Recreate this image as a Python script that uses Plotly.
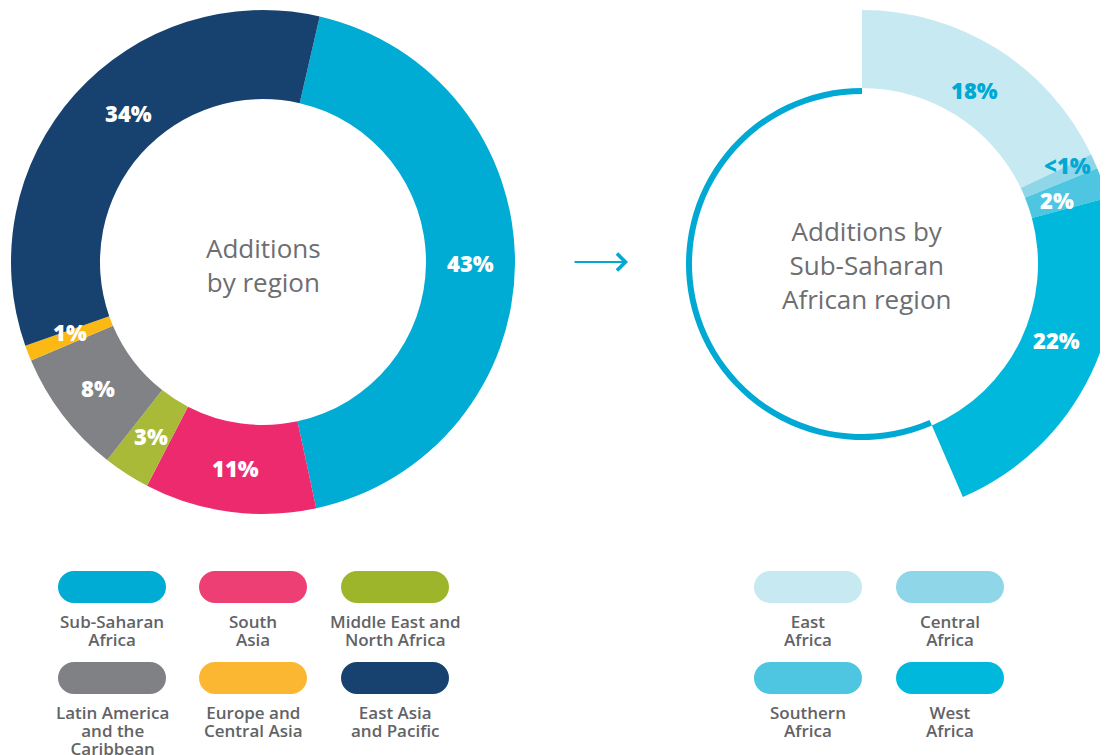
import math
import plotly.graph_objects as go

# browser's default 8px body margin; the figure runs a little past the window's right edge
OFF = 8
W, H = 1112, 747

# ---------------- data ----------------
regions = ["Sub-Saharan Africa", "South Asia", "Middle East and North Africa",
           "Latin America and the Caribbean", "Europe and Central Asia", "East Asia and Pacific"]
region_share = [43, 11, 3, 8, 1, 34]
region_labels = ["43%", "11%", "3%", "8%", "1%", "34%"]
region_colors = ["#00acd4", "#ee2a6f", "#a9ba39", "#818285", "#fdb913", "#17426f"]
region_legend_colors = ["#00acd4", "#ee3f75", "#9db52a", "#808184", "#fbb731", "#17426f"]
region_legend_lines = [["Sub-Saharan", "Africa"], ["South", "Asia"], ["Middle East and", "North Africa"],
                       ["Latin America", "and the", "Caribbean"], ["Europe and", "Central Asia"],
                       ["East Asia", "and Pacific"]]

ssa_regions = ["East Africa", "Central Africa", "Southern Africa", "West Africa"]
ssa_share = [17.9, 0.95, 1.95, 22.7]   # share of all additions, as drawn
ssa_labels = ["18%", "<1%", "2%", "22%"]
ssa_colors = ["#c6e9f2", "#8fd6e9", "#4ec5e1", "#00b8dc"]
ssa_label_colors = ["#00a9d3", "#00a9d3", "white", "white"]
ssa_legend_lines = [["East", "Africa"], ["Central", "Africa"], ["Southern", "Africa"], ["West", "Africa"]]

TEAL = "#00a9d4"
GREY_TXT = "#6d6e71"
LEG_TXT = "#626366"

# ---------------- geometry (screen pixels) ----------------
L_CX, L_CY, L_R, L_RIN = 263, 262, 252, 163
R_CX, R_CY, R_R, R_RIN = 862, 264, 254, 176
RING_R, RING_RIN = 176, 170


def px(x, y):
    """screen pixel -> paper coords"""
    return (x - OFF) / W, 1 - (y - OFF) / H


def dom(cx, cy, r):
    x0, y1 = px(cx - r, cy - r)
    x1, y0 = px(cx + r, cy + r)
    return dict(x=[max(0, x0), min(1, x1)], y=[max(0, y0), min(1, y1)])


fig = go.Figure()

# left donut
fig.add_trace(go.Pie(
    labels=regions, values=region_share, sort=False, direction="clockwise", rotation=13,
    hole=L_RIN / L_R, domain=dom(L_CX, L_CY, L_R),
    marker=dict(colors=region_colors, line=dict(width=0)),
    textinfo="none", hoverinfo="label+percent", showlegend=False))

# thin ring (remaining part of the circle)
ssa_total = sum(ssa_share)
fig.add_trace(go.Pie(
    labels=["Sub-Saharan Africa", "rest"], values=[ssa_total, 100 - ssa_total],
    sort=False, direction="clockwise", rotation=0,
    hole=RING_RIN / RING_R, domain=dom(R_CX, R_CY, RING_R),
    marker=dict(colors=["rgba(0,0,0,0)", TEAL], line=dict(width=0)),
    textinfo="none", hoverinfo="skip", showlegend=False))

# right partial donut
fig.add_trace(go.Pie(
    labels=ssa_regions + [""], values=ssa_share + [100 - ssa_total],
    sort=False, direction="clockwise", rotation=0,
    hole=R_RIN / R_R, domain=dom(R_CX, R_CY, R_R),
    marker=dict(colors=ssa_colors + ["rgba(0,0,0,0)"], line=dict(width=0)),
    textinfo="none", hoverinfo="skip", showlegend=False))

annotations = []
label_font = dict(family="Open Sans", size=22, weight=800)


def add_text(x, y, text, font, dx=0, dy=0):
    a, b = px(x, y)
    annotations.append(dict(x=a, y=b, xref="paper", yref="paper", text=text, showarrow=False,
                            xanchor="center", yanchor="middle", xshift=dx, yshift=dy, font=font))


def slice_labels(values, labels, colors, cx, cy, r_out, r_in, rot, shifts):
    start = rot
    for v, lab, col in zip(values, labels, colors):
        span = v / 100.0 * 360
        mid = math.radians(start + span / 2)
        rm = (r_out + r_in) / 2
        dx, dy = shifts.get(lab, (0, 0))
        add_text(cx + rm * math.sin(mid), cy - rm * math.cos(mid), lab,
                 dict(label_font, color=col), dx, dy)
        start += span


slice_labels(region_share, region_labels, ["white"] * 6, L_CX, L_CY, L_R, L_RIN, 13,
             {"34%": (20, 11), "1%": (0, 5)})
slice_labels(ssa_share, ssa_labels, ssa_label_colors, R_CX, R_CY, R_R, R_RIN, 0,
             {"<1%": (9, 12), "22%": (1, 17), "2%": (-9, -5), "18%": (-2, -8)})

# centre texts
center_font = dict(family="Open Sans", size=26, color=GREY_TXT, weight=400)
add_text(L_CX, L_CY + 3, "Additions<br>by region", center_font)
add_text(866, R_CY + 1, "Additions by<br>Sub-Saharan<br>African region", center_font)

# arrow
ax_, ay_ = px(628, 262)
annotations.append(dict(x=ax_, y=ay_, xref="paper", yref="paper", ax=-55, ay=0, text="",
                        showarrow=True, arrowhead=4, arrowsize=1.8, arrowwidth=1.8,
                        arrowcolor=TEAL))

shapes = []


def pill(x0, y0, x1, y1, color):
    r = (y1 - y0) / 2
    k = 0.5523 * r

    def P(x, y):
        a, b = px(x, y)
        return f"{a:.5f},{b:.5f}"
    path = (f"M{P(x0 + r, y0)} L{P(x1 - r, y0)} "
            f"C{P(x1 - r + k, y0)} {P(x1, y0 + r - k)} {P(x1, y0 + r)} "
            f"C{P(x1, y0 + r + k)} {P(x1 - r + k, y1)} {P(x1 - r, y1)} "
            f"L{P(x0 + r, y1)} "
            f"C{P(x0 + r - k, y1)} {P(x0, y1 - r + k)} {P(x0, y1 - r)} "
            f"C{P(x0, y0 + r - k)} {P(x0 + r - k, y0)} {P(x0 + r, y0)} Z")
    shapes.append(dict(type="path", xref="paper", yref="paper", path=path,
                       fillcolor=color, line=dict(width=0), layer="above"))


# base size 14 gives a tight 18px line pitch; glyphs themselves are drawn at 17px
leg_font = dict(family="Open Sans", size=14, color=LEG_TXT, weight=600)


def legend(cols_x, rows_y, colors, lines_list, ncol):
    for i, (col, lines) in enumerate(zip(colors, lines_list)):
        cxp = cols_x[i % ncol]
        y0 = rows_y[i // ncol]
        pill(cxp - 54, y0, cxp + 54, y0 + 32, col)
        text = "<br>".join(f"<span style='font-size:17px'>{ln}</span>" for ln in lines)
        add_text(cxp, y0 + 50 + (len(lines) - 1) * 9, text, leg_font)


legend([112, 253, 395], [571, 662], region_legend_colors, region_legend_lines, 3)
legend([808, 950], [571, 662], ssa_colors, ssa_legend_lines, 2)

fig.update_layout(width=W, height=H, margin=dict(l=0, r=0, t=0, b=0),
                  paper_bgcolor="white", plot_bgcolor="white",
                  annotations=annotations, shapes=shapes, showlegend=False)

fig.write_html("out.html")
